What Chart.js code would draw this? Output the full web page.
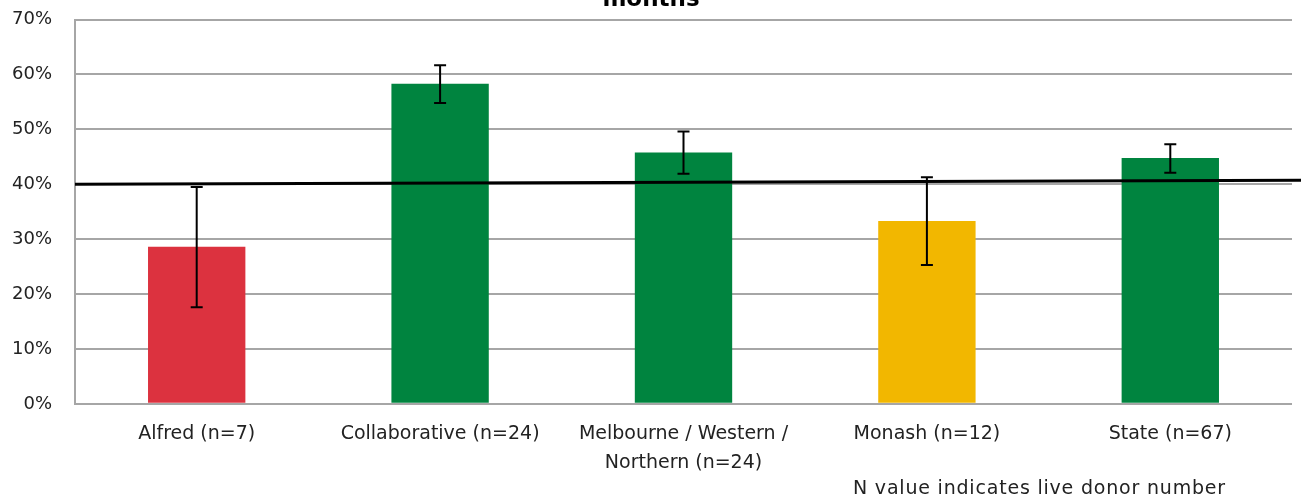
<!DOCTYPE html>
<html>
<head>
<meta charset="utf-8">
<script src="https://cdn.jsdelivr.net/npm/chart.js@4.4.1/dist/chart.umd.min.js"></script>
<style>
  html, body { margin: 0; padding: 0; background: #fff; overflow: hidden; }
  body { width: 1301px; height: 497px; position: relative; }
  #wrap { position: absolute; left: 0; top: -30px; width: 1301px; height: 527px; }
  #note { position: absolute; left: 853px; top: 475px; font-family: "DejaVu Sans", sans-serif; font-size: 19px; letter-spacing: 0.8px; color: #222; white-space: nowrap; line-height: 24px; }
</style>
</head>
<body>
<div id="wrap"><canvas id="c"></canvas></div>
<div id="note">N value indicates live donor number</div>
<script>
const categories = ['Alfred (n=7)', 'Collaborative (n=24)', ['Melbourne / Western /', 'Northern (n=24)'], 'Monash (n=12)', 'State (n=67)'];
const values = [28.6, 58.3, 45.8, 33.3, 44.8];
const errorHigh = [39.5, 61.7, 49.6, 41.3, 47.3];
const errorLow = [17.6, 54.8, 41.9, 25.3, 42.1];
const barColors = ['#DC323F', '#00843F', '#00843F', '#F2B700', '#00843F'];
const targetX = [0, 1.0074];
const targetY = [40.0, 40.75];
const yTicks = [0, 10, 20, 30, 40, 50, 60, 70];
const titleText = 'months';
const FONT = '"DejaVu Sans", sans-serif';

const errorBars = {
  id: 'errorBars',
  afterDatasetsDraw(chart) {
    const meta = chart.getDatasetMeta(0);
    const y = chart.scales.y;
    const ctx = chart.ctx;
    ctx.save();
    ctx.strokeStyle = '#000';
    ctx.lineWidth = 2;
    meta.data.forEach((bar, i) => {
      const yh = y.getPixelForValue(errorHigh[i]);
      const yl = y.getPixelForValue(errorLow[i]);
      const x = bar.x;
      ctx.beginPath();
      ctx.moveTo(x, yh); ctx.lineTo(x, yl);
      ctx.moveTo(x - 6, yh); ctx.lineTo(x + 6, yh);
      ctx.moveTo(x - 6, yl); ctx.lineTo(x + 6, yl);
      ctx.stroke();
    });
    ctx.restore();
  }
};

new Chart(document.getElementById('c'), {
  data: {
    labels: categories,
    datasets: [
      {
        type: 'bar',
        data: values,
        backgroundColor: barColors,
        categoryPercentage: 1.0,
        barPercentage: 0.4,
        grouped: false,
        order: 2
      },
      {
        type: 'line',
        xAxisID: 'xl',
        data: targetX.map((x, i) => ({ x: x, y: targetY[i] })),
        borderColor: '#000',
        borderWidth: 3,
        pointRadius: 0,
        fill: false,
        clip: false,
        order: 1
      }
    ]
  },
  options: {
    responsive: true,
    maintainAspectRatio: false,
    animation: false,
    layout: { padding: { left: 10, right: 9, top: 0, bottom: 3 } },
    plugins: {
      legend: { display: false },
      tooltip: { enabled: false },
      title: {
        display: true,
        text: titleText,
        color: '#000',
        font: { family: FONT, size: 23, weight: 'bold' },
        padding: { top: 16, bottom: 6 }
      }
    },
    scales: {
      x: {
        type: 'category',
        grid: { display: false, drawTicks: false },
        border: { display: false },
        ticks: { color: '#222', font: { family: FONT, size: 19, lineHeight: 1.53 }, padding: 16, maxRotation: 0, autoSkip: false }
      },
      xl: {
        type: 'linear',
        display: false,
        min: 0,
        max: 1
      },
      y: {
        min: 0,
        max: 70,
        afterBuildTicks(scale) { scale.ticks = yTicks.map(v => ({ value: v })); },
        afterFit(scale) { scale.width = 65; },
        grid: { color: '#a6a6a6', lineWidth: 2, drawTicks: false },
        border: { display: true, color: '#a6a6a6', width: 2 },
        ticks: { color: '#222', font: { family: FONT, size: 18 }, padding: 23, callback: v => v + '%' }
      }
    }
  },
  plugins: [errorBars]
});
</script>
</body>
</html>
